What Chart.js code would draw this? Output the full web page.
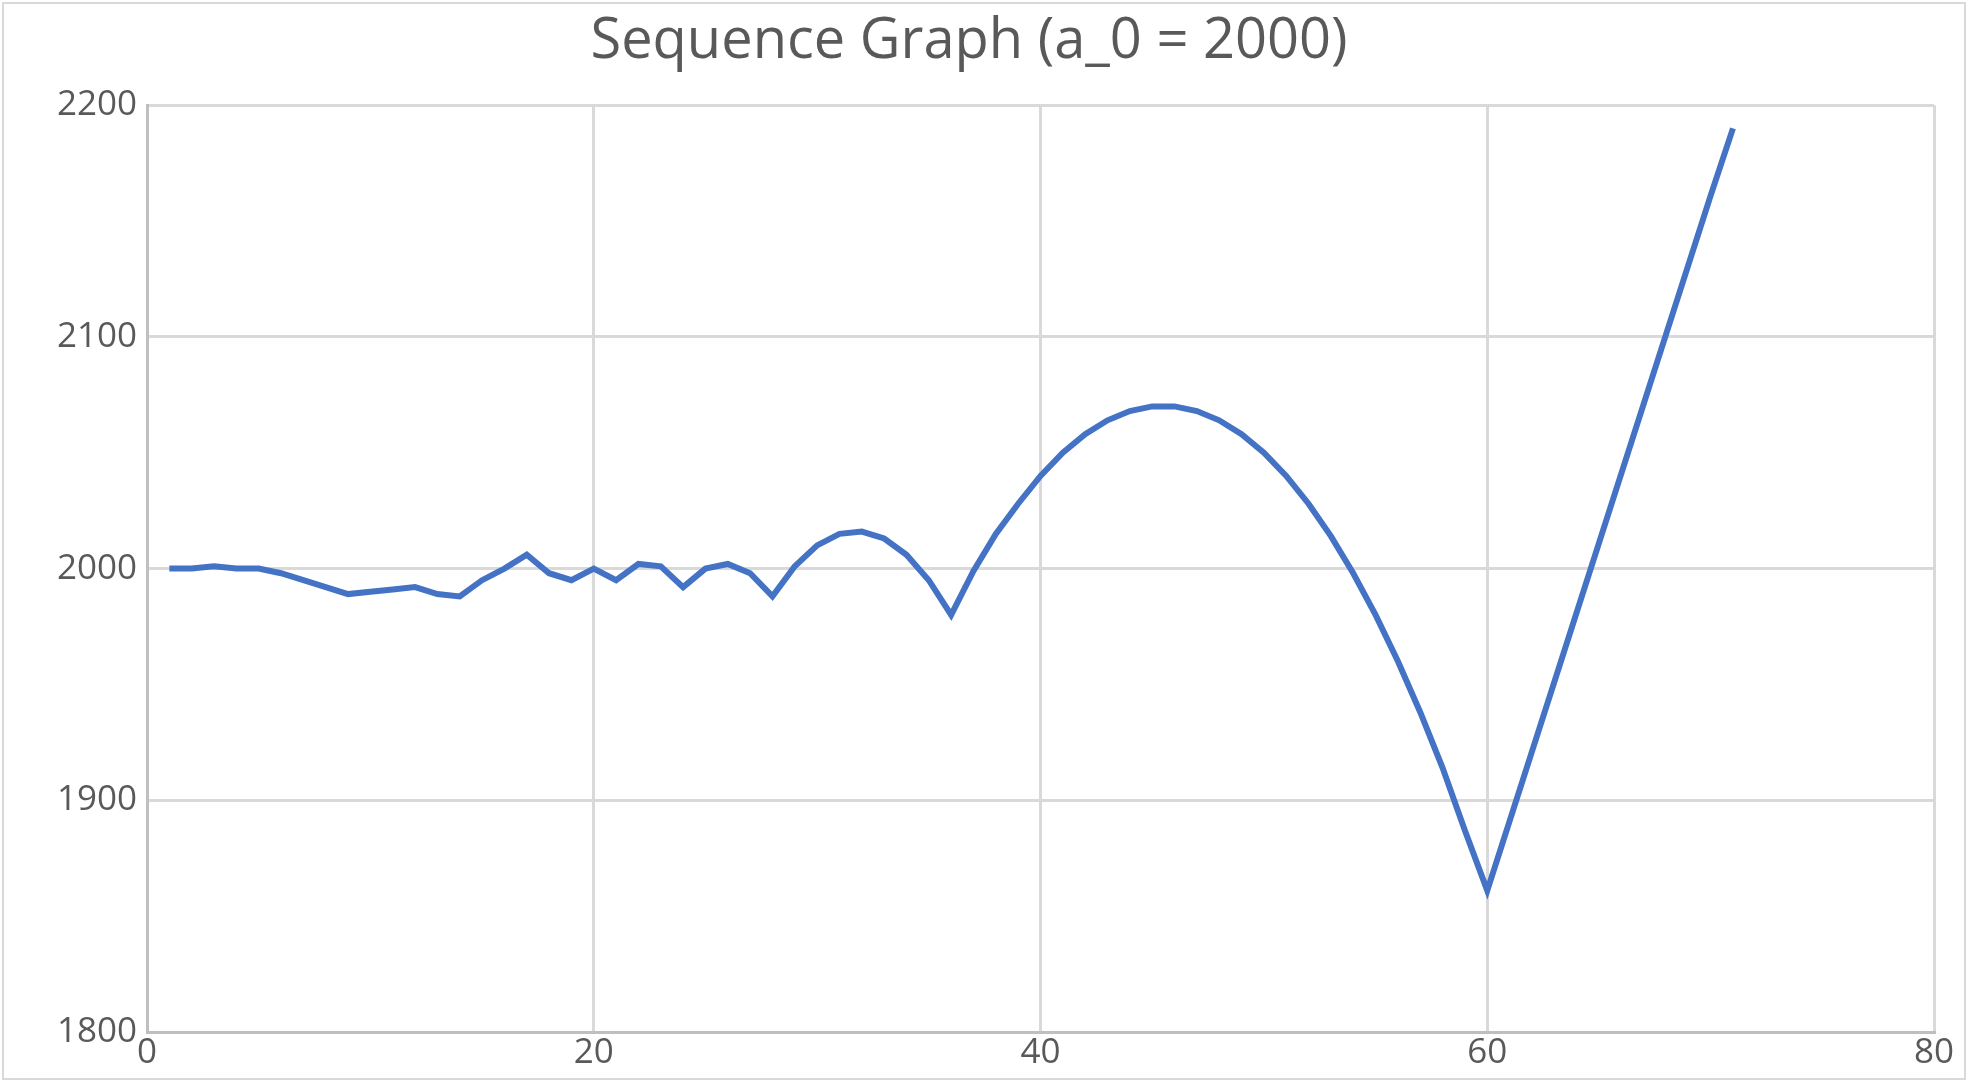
<!DOCTYPE html>
<html><head><meta charset="utf-8">
<script src="https://cdn.jsdelivr.net/npm/chart.js@4"></script>
<style>html,body{margin:0;padding:0;background:#fff}#w{position:absolute;left:2px;top:2px;width:1964px;height:1078px;border:2px solid #d9d9d9;box-sizing:border-box}</style>
</head><body><div id="w"><canvas id="c"></canvas></div>
<script>
const xValues = Array.from({length:71},(_, i)=>i+1);
const yValues = [2000,2000,2001,2000,2000,1998,1995,1992,1989,1990,1991,1992,1989,1988,1995,2000,2006,1998,1995,2000,
1995,2002,2001,1992,2000,2002,1998,1988,2001,2010,2015,2016,2013,2006,1995,1980,1999,2015,2028,2040,
2050,2058,2064,2068,2070,2070,2068,2064,2058,2050,2040,2028,2014,1998,1980,1960,1938,1914,1887,1861,
1891,1921,1951,1981,2011,2041,2071,2101,2131,2161,2190];
const titleText = 'Sequence Graph (a_0 = 2000)';
new Chart(document.getElementById('c'),{
 type:'line',
 data:{datasets:[{data:xValues.map((x,i)=>({x,y:yValues[i]})),borderColor:'#4472C4',borderWidth:6,pointRadius:0,tension:0,fill:false}]},
 options:{responsive:true,maintainAspectRatio:false,animation:false,
  layout:{padding:{left:0,right:30,top:0,bottom:4}},
  plugins:{legend:{display:false},tooltip:{enabled:false},
   title:{display:true,text:titleText,color:'#595959',font:{family:'Open Sans',size:56,weight:'normal'},padding:{top:4,bottom:30}}},
  scales:{
   x:{type:'linear',min:0,max:80,ticks:{stepSize:20,color:'#595959',font:{family:'Open Sans',size:35},padding:0},
      grid:{color:'#d9d9d9',lineWidth:3,drawTicks:false},border:{color:'#bfbfbf',width:3}},
   y:{min:1800,max:2200,afterFit:s=>{s.width=143;},ticks:{stepSize:100,color:'#595959',font:{family:'Open Sans',size:35},padding:10,callback:v=>String(v)},
      grid:{color:'#d9d9d9',lineWidth:3,drawTicks:false},border:{color:'#bfbfbf',width:3}}
  }}
});
</script></body></html>
